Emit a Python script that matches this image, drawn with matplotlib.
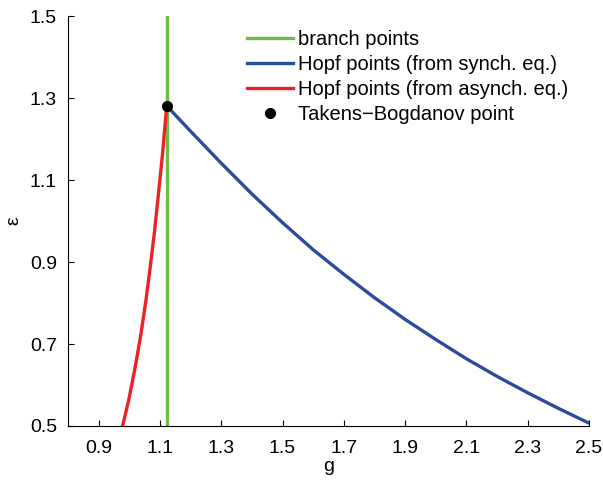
import matplotlib
matplotlib.use('Agg')
import matplotlib.pyplot as plt

plt.rcParams['font.family'] = ['Liberation Sans', 'DejaVu Sans']

# DATA
# branch points (vertical line)
g_branch = [1.122, 1.122]
eps_branch = [0.5, 1.5]

# Hopf points from synchronous equilibrium
g_synch = [1.122, 1.2, 1.3, 1.4, 1.5, 1.6, 1.7, 1.8, 1.9, 2.0, 2.1, 2.2, 2.3, 2.4, 2.5]
eps_synch = [1.281, 1.219, 1.141, 1.066, 0.996, 0.930, 0.870, 0.813, 0.760, 0.711,
             0.664, 0.621, 0.581, 0.543, 0.507]

# Hopf points from asynchronous equilibrium
g_asynch = [0.978, 0.998, 1.0195, 1.0385, 1.0545, 1.0685, 1.0815, 1.093, 1.1085, 1.122]
eps_asynch = [0.5, 0.563, 0.645, 0.727, 0.808, 0.889, 0.970, 1.051, 1.165, 1.281]

# Takens-Bogdanov point
g_tb = [1.122]
eps_tb = [1.281]

xticks = [0.9, 1.1, 1.3, 1.5, 1.7, 1.9, 2.1, 2.3, 2.5]
yticks = [0.5, 0.7, 0.9, 1.1, 1.3, 1.5]

# PLOT
fig = plt.figure(figsize=(6.03, 4.8), dpi=100)
ax = fig.add_axes([0.1128, 0.1125, 0.864, 0.854])

ax.plot(g_branch, eps_branch, color='#6cbd45', lw=2.4, label='branch points', zorder=2)
ax.plot(g_synch, eps_synch, color='#2b4b9b', lw=2.4, label='Hopf points (from synch. eq.)', zorder=3)
ax.plot(g_asynch, eps_asynch, color='#ec2227', lw=2.4, label='Hopf points (from asynch. eq.)', zorder=3)
ax.plot(g_tb, eps_tb, 'o', color='black', ms=7, label='Takens\u2212Bogdanov point', zorder=4)

ax.set_xlim(0.8, 2.5)
ax.set_ylim(0.5, 1.5)
ax.set_xticks(xticks)
ax.set_yticks(yticks)
ax.set_xticklabels([f'{t:.1f}' for t in xticks])
ax.set_yticklabels([f'{t:.1f}' for t in yticks])
ax.tick_params(direction='in', length=4, width=0.8, labelsize=14)
ax.tick_params(axis='x', pad=10)
ax.tick_params(axis='y', pad=8)

for s in ['top', 'right']:
    ax.spines[s].set_visible(False)
for s in ['left', 'bottom']:
    ax.spines[s].set_linewidth(0.8)

ax.set_xlabel('g', fontsize=14, labelpad=1)
ax.set_ylabel('\u03b5', fontsize=14, labelpad=5)

ax.legend(loc='upper left', bbox_to_anchor=(0.3436, 0.966), frameon=False, fontsize=14.5,
          handlelength=2.3, handletextpad=0.25, labelspacing=0.3, borderaxespad=0,
          borderpad=0)

plt.savefig('out.png', dpi=100)
